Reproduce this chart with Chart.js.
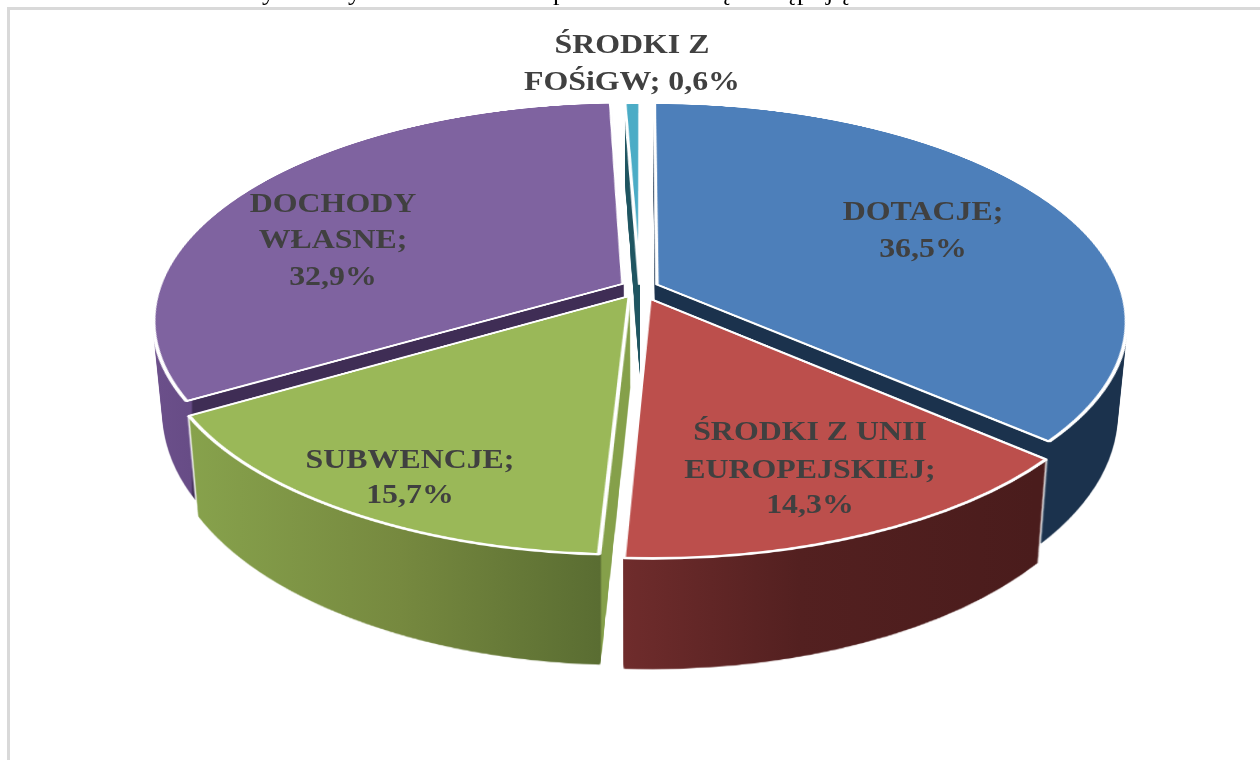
<!DOCTYPE html>
<html lang="pl">
<head>
<meta charset="utf-8">
<title>Struktura dochodów</title>
<script src="https://cdn.jsdelivr.net/npm/chart.js@4"></script>
<style>
  html, body { margin: 0; padding: 0; background: #fff; overflow: hidden; }
  #wrap { position: relative; width: 1260px; height: 760px; }
  #frame { position: absolute; left: 7px; top: 7px; right: 0; bottom: 0; border-left: 3px solid #d9d9d9; border-top: 3px solid #d9d9d9; }
  #myChart { position: absolute; left: 0; top: 0; }
</style>
</head>
<body>
<div id="wrap">
  <div id="frame"></div>
  <canvas id="myChart" width="1260" height="760"></canvas>
</div>
<script>
const categories = ['DOTACJE', 'ŚRODKI Z UNII EUROPEJSKIEJ', 'SUBWENCJE', 'DOCHODY WŁASNE', 'ŚRODKI Z FOŚiGW'];
const values = [36.5, 14.3, 15.7, 32.9, 0.6];

// how each label is broken into lines
const labelLines = [
  ['DOTACJE;', '36,5%'],
  ['ŚRODKI Z UNII', 'EUROPEJSKIEJ;', '14,3%'],
  ['SUBWENCJE;', '15,7%'],
  ['DOCHODY', 'WŁASNE;', '32,9%'],
  ['ŚRODKI Z', 'FOŚiGW; 0,6%']
];
const labelX = [923, 810, 410, 333, 632];
const labelBaselines = [[220, 257], [440, 478, 513], [468, 503], [212, 248, 285], [53, 90]];

const topColors = ['#4d7fba', '#bc4f4c', '#9ab858', '#7f63a0', '#4bacc6'];
const sideStops = [
  [[0, '#1b324d'], [1260, '#1b324d']],
  [[623, '#6f2c2c'], [800, '#532020'], [1035, '#4a1c1c']],
  [[190, '#87a24c'], [400, '#76893f'], [600, '#5a6d32'], [602, '#85a04a'], [660, '#85a04a']],
  [[157, '#6b4f8a'], [191, '#674c86'], [193, '#3f2d55'], [660, '#3f2d55']],
  [[0, '#1f5561'], [1260, '#1f5561']]
];
const explode = [20, 27, 22, 21, 8];
const drawOrder = [4, 3, 0, 2, 1];

// bits of the line of text cut off by the top edge of the picture
const cutLetters = ['y', 'y', 'p', 'ę', 'ą', 'p', 'j', 'ę'];
const cutLetterX = [262, 348, 553, 719, 783, 797, 826, 838];

const W = 1260, H = 760;
const R = 500, SRC = 1100;
const X0 = 640, Y0 = 288;
const tilt = 0.167 / R, scaleX = 464 / R, scaleY = 212.4 / R;

const newLayer = (w, h) => {
  const c = document.createElement('canvas');
  c.width = w;
  c.height = h;
  return c;
};

// lays the flat pie slice down on the table, one row of pixels at a time
const layDown = (src, out) => {
  for (let y = 70; y < 600; y++) {
    const e = (y - Y0) / scaleY;
    const e2 = (y + 1 - Y0) / scaleY;
    const v = e / (1 + tilt * e);
    const v2 = e2 / (1 + tilt * e2);
    if (v < -SRC / 2 || v2 > SRC / 2) continue;
    const w = 1 - tilt * (v + v2) / 2;
    const dw = SRC * scaleX / w;
    out.drawImage(src, 0, SRC / 2 + v, SRC, v2 - v, X0 - dw / 2, y, dw, 1);
  }
};

const drawSlice = (ctx, arc, i, withBorder) => {
  const src = newLayer(SRC, SRC);
  const c = src.getContext('2d');
  const mid = (arc.startAngle + arc.endAngle) / 2;
  c.translate(SRC / 2 - arc.x + Math.cos(mid) * explode[i], SRC / 2 - arc.y + Math.sin(mid) * explode[i]);
  const saved = arc.options;
  if (!withBorder) arc.options = { ...saved, borderWidth: 0 };
  arc.draw(c);
  arc.options = saved;
  layDown(src, ctx);
};

const pie3d = {
  id: 'pie3d',
  beforeDatasetsDraw(chart) {
    const ctx = chart.ctx;
    const arcs = chart.getDatasetMeta(0).data;

    drawOrder.forEach(i => {
      const arc = arcs[i];
      // side walls
      const plain = newLayer(W, H);
      drawSlice(plain.getContext('2d'), arc, i, false);
      const body = newLayer(W, H);
      const b = body.getContext('2d');
      for (let t = 112; t >= 1; t--) {
        const f = t / 112;
        const sx = 1 - 0.02 * f;
        const sy = 1 + 0.075 * f;
        b.setTransform(sx, 0, 0, sy, X0 * (1 - sx), 100 * f - 415 * 0.075 * f);
        b.drawImage(plain, 0, 0);
      }
      b.setTransform(1, 0, 0, 1, 0, 0);
      b.globalCompositeOperation = 'source-in';
      b.fillStyle = '#fff';
      b.fillRect(0, 0, W, H);
      ctx.drawImage(body, -1.5, 0);
      ctx.drawImage(body, 1.5, 0);
      ctx.drawImage(body, 0, 1.5);
      const g = b.createLinearGradient(0, 0, W, 0);
      sideStops[i].forEach(s => g.addColorStop(s[0] / W, s[1]));
      b.fillStyle = g;
      b.fillRect(0, 0, W, H);
      ctx.drawImage(body, 0, 0);
      // top face
      drawSlice(ctx, arc, i, true);
    });

    ctx.save();
    ctx.textAlign = 'center';
    ctx.textBaseline = 'alphabetic';
    ctx.font = 'bold 27px "Liberation Serif"';
    ctx.fillStyle = '#404040';
    labelLines.forEach((lines, i) => {
      lines.forEach((line, j) => {
        ctx.save();
        ctx.translate(labelX[i], labelBaselines[i][j]);
        ctx.scale(1.18, 1);
        ctx.fillText(line, 0, 0);
        ctx.restore();
      });
    });
    ctx.textAlign = 'left';
    ctx.font = '26px "Liberation Serif"';
    ctx.fillStyle = '#000';
    cutLetters.forEach((l, i) => ctx.fillText(l, cutLetterX[i], 0));
    ctx.restore();
    return false;
  }
};

new Chart(document.querySelector('#myChart'), {
  type: 'pie',
  data: {
    labels: categories,
    datasets: [{
      data: values,
      backgroundColor: topColors,
      borderColor: '#ffffff',
      borderWidth: 4,
      radius: R
    }]
  },
  options: {
    responsive: false,
    animation: false,
    plugins: { legend: { display: false }, tooltip: { enabled: false } }
  },
  plugins: [pie3d]
});
</script>
</body>
</html>
